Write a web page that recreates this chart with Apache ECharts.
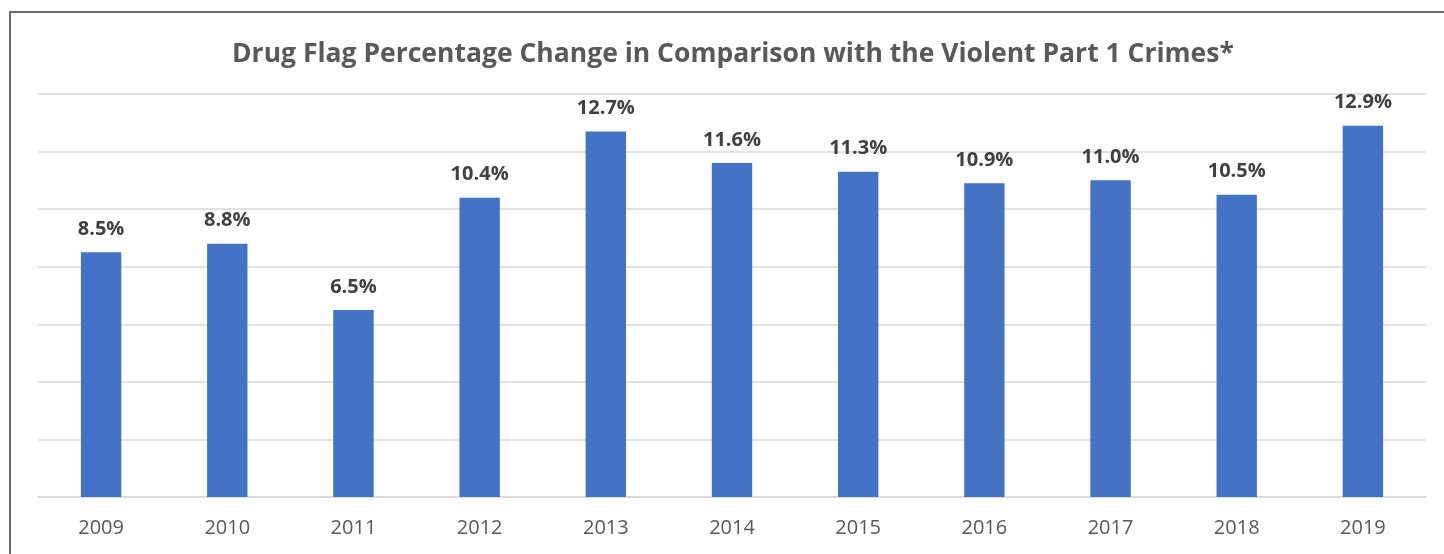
<!DOCTYPE html>
<html><head><meta charset="utf-8">
<script src="https://cdn.jsdelivr.net/npm/echarts@6/dist/echarts.min.js"></script>
<style>
html,body{margin:0;padding:0;background:#fff;}
#frame{position:absolute;left:9px;top:11px;width:1500px;height:600px;border-left:2px solid #6b6b6b;border-top:2px solid #6b6b6b;}
#c{position:absolute;left:0;top:0;width:1444px;height:554px;}
</style></head><body>
<div id="frame"></div>
<div id="c"></div>
<script>
const categories = ['2009','2010','2011','2012','2013','2014','2015','2016','2017','2018','2019'];
const values = [8.5, 8.8, 6.5, 10.4, 12.7, 11.6, 11.3, 10.9, 11.0, 10.5, 12.9];
const titleText = 'Drug Flag Percentage Change in Comparison with the Violent Part 1 Crimes*';
const chart = echarts.init(document.getElementById('c'), null, {renderer:'canvas'});
chart.setOption({
  backgroundColor: 'transparent',
  animation: false,
  title: {
    text: titleText, left: 227, top: 36,
    textStyle: {fontFamily: 'Open Sans', fontWeight: 'bold', fontSize: 26.5, color: '#595959'}
  },
  grid: {left: 38, right: 18, top: 94, bottom: 57},
  xAxis: {
    type: 'category', data: categories,
    axisLine: {lineStyle: {color: '#d9d9d9', width: 1.5}},
    axisTick: {show: false},
    axisLabel: {fontFamily: 'Open Sans', fontSize: 20, color: '#595959', margin: 21}
  },
  yAxis: {
    type: 'value', min: 0, max: 14, interval: 2,
    axisLabel: {show: false}, axisLine: {show: false}, axisTick: {show: false},
    splitLine: {lineStyle: {color: '#d9d9d9', width: 1.5}}
  },
  series: [{
    type: 'bar', data: values, barWidth: '32%',
    itemStyle: {color: '#4472c4'},
    label: {show: true, position: 'top', distance: 13, formatter: p => p.value.toFixed(1) + '%',
      fontFamily: 'Open Sans', fontWeight: 'bold', fontSize: 20, color: '#404040'}
  }]
});
</script>
</body></html>
